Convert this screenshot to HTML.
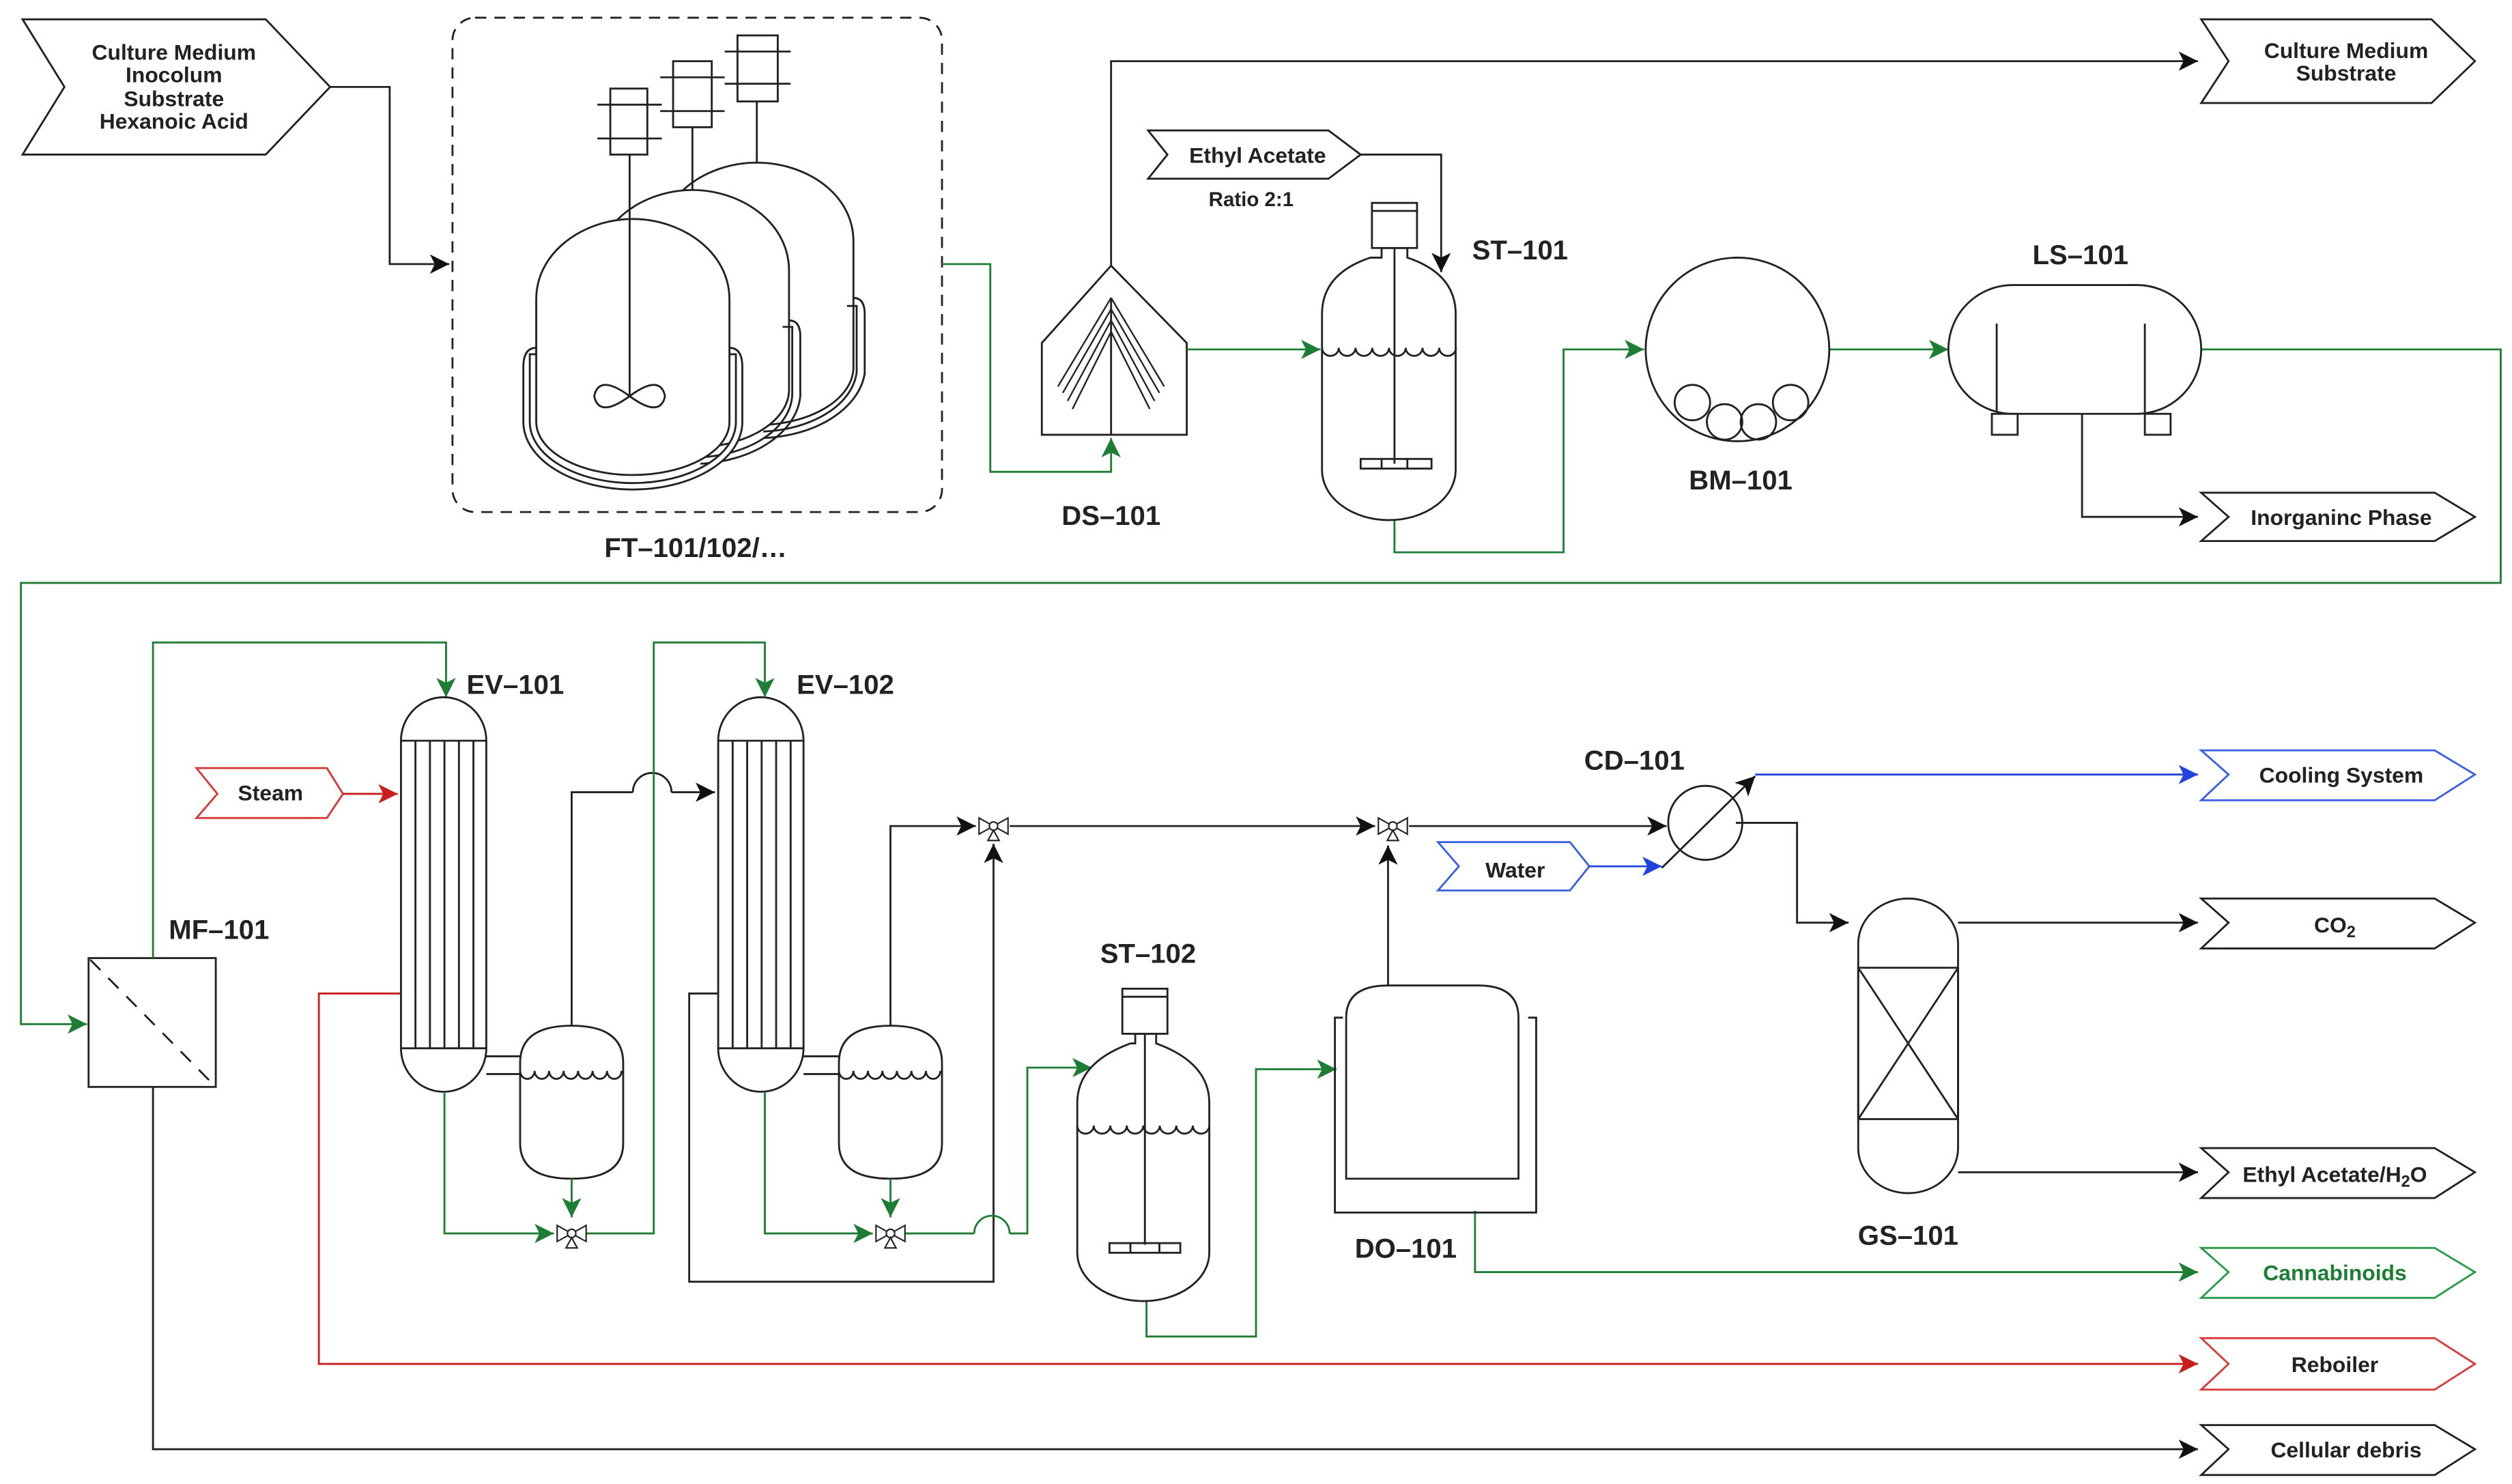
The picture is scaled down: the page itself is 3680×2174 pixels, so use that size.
<!DOCTYPE html>
<html><head><meta charset="utf-8"><style>
html,body{margin:0;padding:0;background:#fff;}
svg{display:block;}
text{font-family:"Liberation Sans Narrow","Liberation Sans",sans-serif;font-weight:bold;fill:#222;}
</style></head><body>
<svg width="3680" height="2174" viewBox="0 0 1560 921.6" xmlns="http://www.w3.org/2000/svg">
<defs>
<marker id="ak" markerUnits="userSpaceOnUse" markerWidth="14" markerHeight="14" refX="12" refY="6" orient="auto"><path d="M0,0 L12,6 L0,12 L3,6 Z" fill="#111"/></marker>
<marker id="ag" markerUnits="userSpaceOnUse" markerWidth="14" markerHeight="14" refX="12" refY="6" orient="auto"><path d="M0,0 L12,6 L0,12 L3,6 Z" fill="#1e7d34"/></marker>
<marker id="ar" markerUnits="userSpaceOnUse" markerWidth="14" markerHeight="14" refX="12" refY="6" orient="auto"><path d="M0,0 L12,6 L0,12 L3,6 Z" fill="#c81e1e"/></marker>
<marker id="ab" markerUnits="userSpaceOnUse" markerWidth="14" markerHeight="14" refX="12" refY="6" orient="auto"><path d="M0,0 L12,6 L0,12 L3,6 Z" fill="#2244dd"/></marker>
<g id="valve" fill="#fff" stroke="#222" stroke-width="0.9">
<path d="M-9,-5 L-9,5 L0,0 Z M9,-5 L9,5 L0,0 Z"/>
<circle r="2.6"/>
<path d="M0,2.6 L-3.5,9 L3.5,9 Z"/>
</g>
</defs>
<g fill="none" stroke="#222" stroke-width="1.2">
<polygon points="14,12 165,12 205,54 165,96 14,96 40,54" fill="#fff"/>
<polyline points="205,54 242,54 242,164 279,164" marker-end="url(#ak)"/>
<rect x="281" y="11" width="304" height="307" rx="14" stroke-dasharray="7,5"/>
<g fill="#fff">
<path d="M410,150 C410,120 440,101 470,101 C500,101 530,120 530,150 L530,228 A60,36 0 0 1 410,228 Z"/>
<path d="M530,185 Q537,185 537,195 L537,232 A67,45 0 0 1 474,272" fill="none"/>
<path d="M526,190 L532,190 L532,231 A62,40 0 0 1 474,268" fill="none"/>
<path d="M370,168 C370,138 400,118 430,118 C460,118 490,138 490,168 L490,242 A60,36 0 0 1 370,242 Z"/>
<path d="M490,199 Q497,199 497,209 L497,246 A67,45 0 0 1 435,288" fill="none"/>
<path d="M486,203 L492,203 L492,245 A62,40 0 0 1 435,284" fill="none"/>
<path d="M325,228 Q325,216 333,216 L333,220 L329,220 L329,262 A64,38 0 0 0 457,262 L457,220 L453,220 L453,216 Q461,216 461,228 L461,262 A68,42 0 0 1 325,262 Z"/>
<path d="M333,186 C333,156 363,136 393,136 C423,136 453,156 453,186 L453,262 A60,33 0 0 1 333,262 Z"/>
</g>
<rect x="379" y="55" width="23" height="41" fill="#fff"/><line x1="371" y1="65" x2="411" y2="65"/><line x1="371" y1="86" x2="411" y2="86"/>
<rect x="418" y="38" width="24" height="41" fill="#fff"/><line x1="410" y1="48" x2="450" y2="48"/><line x1="410" y1="69" x2="450" y2="69"/>
<rect x="458" y="22" width="25" height="41" fill="#fff"/><line x1="450" y1="32" x2="491" y2="32"/><line x1="450" y1="52" x2="491" y2="52"/>
<line x1="391" y1="96" x2="391" y2="246"/><line x1="430" y1="79" x2="430" y2="118"/><line x1="470" y1="63" x2="470" y2="101"/>
<path d="M391,246 Q372,232 369,246 Q372,260 391,246 Q410,232 413,246 Q410,260 391,246 Z"/>
</g>
<text x="432" y="346" font-size="17" text-anchor="middle">FT–101/102/…</text>
<text x="108" y="37" font-size="13.5" text-anchor="middle">Culture Medium</text>
<text x="108" y="51" font-size="13.5" text-anchor="middle">Inocolum</text>
<text x="108" y="66" font-size="13.5" text-anchor="middle">Substrate</text>
<text x="108" y="80" font-size="13.5" text-anchor="middle">Hexanoic Acid</text>

<g fill="none" stroke="#222" stroke-width="1.2">
<polygon points="647,270 647,213 690,165 737,213 737,270" fill="#fff"/>
<path d="M690,185 L657,240 M690,185 L723,240 M690,192 L660,244 M690,192 L720,244 M690,199 L663,249 M690,199 L717,249 M690,206 L666,254 M690,206 L714,254" stroke-width="1"/>
<line x1="690" y1="185" x2="690" y2="270"/>
<polyline points="690,165 690,38 1365,38" marker-end="url(#ak)"/>
<polygon points="1367,12 1510,12 1537,38 1510,64 1367,64 1384,38" fill="#fff"/>
<polygon points="713,81 825,81 845,96 825,111 713,111 725,96" fill="#fff"/>
<polyline points="845,96 895,96 895,169" marker-end="url(#ak)"/>
</g>
<g fill="none" stroke="#1e7d34" stroke-width="1.2">
<polyline points="585,164 615,164 615,293 690,293 690,272" marker-end="url(#ag)"/>
<polyline points="737,217 820,217" marker-end="url(#ag)"/>
<polyline points="866,323 866,343 971,343 971,217 1021,217" marker-end="url(#ag)"/>
<polyline points="1134,217 1210,217" marker-end="url(#ag)"/>
<polyline points="1366,217 1553,217 1553,362 13,362 13,636 54,636" marker-end="url(#ag)"/>
</g>
<text x="690" y="326" font-size="17" text-anchor="middle">DS–101</text>
<text x="1457" y="36" font-size="13.5" text-anchor="middle">Culture Medium</text>
<text x="1457" y="50" font-size="13.5" text-anchor="middle">Substrate</text>
<text x="781" y="101" font-size="13.5" text-anchor="middle">Ethyl Acetate</text>
<text x="777" y="128" font-size="12.5" text-anchor="middle">Ratio 2:1</text>

<g fill="none" stroke="#222" stroke-width="1.2">
<path d="M858,160 L858,154 L874,154 L874,160 Q904,170 904,195 L904,292 A41.5,31 0 0 1 821,292 L821,195 Q821,170 851,160 Z" fill="#fff"/>
<rect x="852" y="126" width="28" height="28" fill="#fff"/><line x1="852" y1="131" x2="880" y2="131"/>
<line x1="866" y1="154" x2="866" y2="288"/>
<rect x="845" y="285" width="44" height="6"/><line x1="858" y1="285" x2="858" y2="291"/><line x1="874" y1="285" x2="874" y2="291"/>
<path d="M821,216 a5.2,5 0 0 0 10.4,0 a5.2,5 0 0 0 10.4,0 a5.2,5 0 0 0 10.4,0 a5.2,5 0 0 0 10.4,0 a5.2,5 0 0 0 10.4,0 a5.2,5 0 0 0 10.4,0 a5.2,5 0 0 0 10.4,0 a5.2,5 0 0 0 10.4,0"/>
<circle cx="1079" cy="217" r="57" fill="#fff"/>
<circle cx="1051" cy="250" r="11"/><circle cx="1071" cy="262" r="11"/><circle cx="1092" cy="262" r="11"/><circle cx="1112" cy="250" r="11"/>
<path d="M1250,177 L1327,177 A40,40 0 0 1 1327,257 L1250,257 A40,40 0 0 1 1250,177 Z" fill="#fff"/>
<line x1="1240" y1="201" x2="1240" y2="256"/><line x1="1332" y1="201" x2="1332" y2="256"/>
<rect x="1237" y="257" width="16" height="13"/><rect x="1332" y="257" width="16" height="13"/>
<polyline points="1293,257 1293,321 1365,321" marker-end="url(#ak)"/>
<polygon points="1367,306 1512,306 1537,321 1512,336 1367,336 1384,321" fill="#fff"/>
</g>
<text x="944" y="161" font-size="17" text-anchor="middle">ST–101</text>
<text x="1081" y="304" font-size="17" text-anchor="middle">BM–101</text>
<text x="1292" y="164" font-size="17" text-anchor="middle">LS–101</text>
<text x="1454" y="326" font-size="13.5" text-anchor="middle">Inorganinc Phase</text>

<g fill="none" stroke="#222" stroke-width="1.2">
<rect x="55" y="595" width="79" height="80" fill="#fff"/>
<line x1="56" y1="596" x2="133" y2="674" stroke-dasharray="9,7"/>
<polyline points="95,675 95,900 1365,900" marker-end="url(#ak)"/>
</g>
<g fill="none" stroke="#1e7d34" stroke-width="1.2">
<polyline points="95,595 95,399 277,399 277,433" marker-end="url(#ag)"/>
</g>
<text x="136" y="583" font-size="17" text-anchor="middle">MF–101</text>

<g fill="none" stroke="#c81e1e" stroke-width="1.2">
<polygon points="122,477 203,477 213,493 203,508 122,508 135,493" fill="#fff" stroke="#d83a3a"/>
<polyline points="213,493 247,493" marker-end="url(#ar)"/>
<polyline points="249,617 198,617 198,847 1365,847" marker-end="url(#ar)"/>
<polygon points="1367,831 1512,831 1537,847 1512,863 1367,863 1384,847" fill="#fff" stroke="#d83a3a"/>
</g>
<text x="168" y="497" font-size="13.5" text-anchor="middle">Steam</text>
<text x="1450" y="852" font-size="13.5" text-anchor="middle">Reboiler</text>

<g fill="none" stroke="#222" stroke-width="1.2">
<path d="M249,460 A26.5,27 0 0 1 302,460 L302,651 A26.5,27 0 0 1 249,651 Z" fill="#fff"/>
<line x1="249" y1="460" x2="302" y2="460"/><line x1="249" y1="651" x2="302" y2="651"/>
<line x1="258" y1="460" x2="258" y2="651"/><line x1="267" y1="460" x2="267" y2="651"/><line x1="276" y1="460" x2="276" y2="651"/><line x1="285" y1="460" x2="285" y2="651"/><line x1="294" y1="460" x2="294" y2="651"/>
<line x1="302" y1="656" x2="324" y2="656"/><line x1="302" y1="667" x2="324" y2="667"/>
<path d="M323,660 Q323,637 355,637 Q387,637 387,660 L387,710 Q387,732 355,732 Q323,732 323,710 Z" fill="#fff"/>
<path d="M323,665 a4.5,5 0 0 0 9,0 a4.5,5 0 0 0 9,0 a4.5,5 0 0 0 9,0 a4.5,5 0 0 0 9,0 a4.5,5 0 0 0 9,0 a4.5,5 0 0 0 9,0 a4.5,5 0 0 0 9,0"/>
<polyline points="355,637 355,492 393,492"/>
<path d="M393,492 A12,12 0 0 1 417,492"/>
<polyline points="417,492 444,492" marker-end="url(#ak)"/>
<path d="M446,460 A26.5,27 0 0 1 499,460 L499,651 A26.5,27 0 0 1 446,651 Z" fill="#fff"/>
<line x1="446" y1="460" x2="499" y2="460"/><line x1="446" y1="651" x2="499" y2="651"/>
<line x1="455" y1="460" x2="455" y2="651"/><line x1="464" y1="460" x2="464" y2="651"/><line x1="473" y1="460" x2="473" y2="651"/><line x1="482" y1="460" x2="482" y2="651"/><line x1="491" y1="460" x2="491" y2="651"/>
<line x1="499" y1="656" x2="521" y2="656"/><line x1="499" y1="667" x2="521" y2="667"/>
<path d="M521,660 Q521,637 553,637 Q585,637 585,660 L585,710 Q585,732 553,732 Q521,732 521,710 Z" fill="#fff"/>
<path d="M521,665 a4.5,5 0 0 0 9,0 a4.5,5 0 0 0 9,0 a4.5,5 0 0 0 9,0 a4.5,5 0 0 0 9,0 a4.5,5 0 0 0 9,0 a4.5,5 0 0 0 9,0 a4.5,5 0 0 0 9,0"/>
<polyline points="553,637 553,513 606,513" marker-end="url(#ak)"/>
<polyline points="446,617 428,617 428,796 617,796 617,524" marker-end="url(#ak)"/>
<polyline points="627,513 854,513" marker-end="url(#ak)"/>
<polyline points="875,513 1035,513" marker-end="url(#ak)"/>
</g>
<g fill="none" stroke="#1e7d34" stroke-width="1.2">
<polyline points="276,678 276,766 344,766" marker-end="url(#ag)"/>
<polyline points="355,732 355,756" marker-end="url(#ag)"/>
<polyline points="364,766 406,766 406,399 475,399 475,433" marker-end="url(#ag)"/>
<polyline points="475,678 475,766 542,766" marker-end="url(#ag)"/>
<polyline points="553,732 553,756" marker-end="url(#ag)"/>
<polyline points="562,766 605,766"/>
<path d="M605,766 A11,11 0 0 1 627,766"/>
<polyline points="627,766 638,766 638,663 678,663" marker-end="url(#ag)"/>
<polyline points="712,808 712,830 780,830 780,664 830,664" marker-end="url(#ag)"/>
<polyline points="916,752 916,790 1365,790" marker-end="url(#ag)"/>
<polygon points="1367,775 1512,775 1537,790 1512,806 1367,806 1384,790" fill="#fff" stroke="#2a9a48"/>
</g>
<use href="#valve" x="355" y="766"/>
<use href="#valve" x="553" y="766"/>
<use href="#valve" x="617" y="513"/>
<use href="#valve" x="865" y="513"/>
<text x="320" y="431" font-size="17" text-anchor="middle">EV–101</text>
<text x="525" y="431" font-size="17" text-anchor="middle">EV–102</text>
<text x="1450" y="795" font-size="13.5" text-anchor="middle" style="fill:#1e7d34">Cannabinoids</text>

<g fill="none" stroke="#222" stroke-width="1.2">
<path d="M705,648 L705,642 L718,642 L718,648 Q751,660 751,685 L751,778 A41,30 0 0 1 669,778 L669,685 Q669,660 702,648 Z" fill="#fff"/>
<rect x="697" y="614" width="28" height="28" fill="#fff"/><line x1="697" y1="619" x2="725" y2="619"/>
<line x1="711" y1="642" x2="711" y2="773"/>
<rect x="689" y="772" width="44" height="6"/><line x1="702" y1="772" x2="702" y2="778"/><line x1="720" y1="772" x2="720" y2="778"/>
<path d="M669,699 a5.1,5 0 0 0 10.25,0 a5.1,5 0 0 0 10.25,0 a5.1,5 0 0 0 10.25,0 a5.1,5 0 0 0 10.25,0 a5.1,5 0 0 0 10.25,0 a5.1,5 0 0 0 10.25,0 a5.1,5 0 0 0 10.25,0 a5.1,5 0 0 0 10.25,0"/>
<polyline points="834,632 829,632 829,753 954,753 954,632 949,632"/>
<path d="M836,732 L836,632 Q836,612 862,612 L918,612 Q943,612 943,632 L943,732 Z" fill="#fff"/>
<polyline points="862,612 862,525" marker-end="url(#ak)"/>
<circle cx="1059" cy="511" r="23" fill="#fff"/>
<polyline points="1078,511 1116,511 1116,573 1148,573" marker-end="url(#ak)"/>
<path d="M1154,586 A31,28 0 0 1 1216,586 L1216,713 A31,28 0 0 1 1154,713 Z" fill="#fff"/>
<rect x="1154" y="601" width="62" height="94"/>
<line x1="1154" y1="601" x2="1216" y2="695"/><line x1="1216" y1="601" x2="1154" y2="695"/>
<polyline points="1216,573 1365,573" marker-end="url(#ak)"/>
<polyline points="1216,728 1365,728" marker-end="url(#ak)"/>
<polygon points="1367,558 1512,558 1537,573 1512,589 1367,589 1384,573" fill="#fff"/>
<polygon points="1367,713 1512,713 1537,728 1512,744 1367,744 1384,728" fill="#fff"/>
<polygon points="1367,885 1512,885 1537,900 1512,916 1367,916 1384,900" fill="#fff"/>
</g>
<g fill="none" stroke="#2244dd" stroke-width="1.2">
<polygon points="893,523 975,523 987,538 975,553 893,553 906,538" fill="#fff" stroke="#3a5fe5"/>
<polyline points="987,538 1032,538" marker-end="url(#ab)"/>
<polyline points="1090,481 1365,481" marker-end="url(#ab)"/>
<polygon points="1367,466 1512,466 1537,481 1512,497 1367,497 1384,481" fill="#fff" stroke="#3a5fe5"/>
</g>
<line x1="1032" y1="539" x2="1090" y2="482" stroke="#222" stroke-width="1.2" marker-end="url(#ak)"/>
<text x="713" y="598" font-size="17" text-anchor="middle">ST–102</text>
<text x="873" y="781" font-size="17" text-anchor="middle">DO–101</text>
<text x="1015" y="478" font-size="17" text-anchor="middle">CD–101</text>
<text x="1185" y="773" font-size="17" text-anchor="middle">GS–101</text>
<text x="941" y="545" font-size="13.5" text-anchor="middle">Water</text>
<text x="1454" y="486" font-size="13.5" text-anchor="middle">Cooling System</text>
<text x="1450" y="579" font-size="13.5" text-anchor="middle">CO<tspan font-size="10" dy="3">2</tspan></text>
<text x="1450" y="734" font-size="13.5" text-anchor="middle">Ethyl Acetate/H<tspan font-size="10" dy="3">2</tspan><tspan dy="-3">O</tspan></text>
<text x="1457" y="905" font-size="13.5" text-anchor="middle">Cellular debris</text>
</svg>
</body></html>
